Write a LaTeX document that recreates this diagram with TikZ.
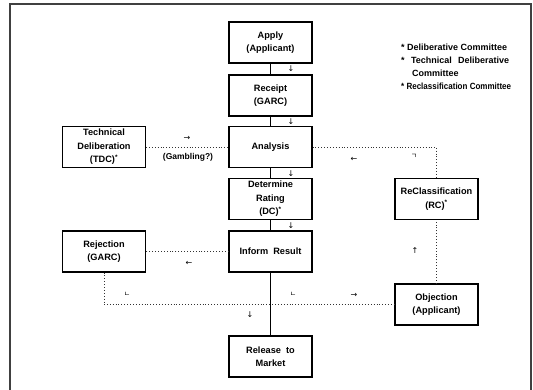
\documentclass[tikz,border=0pt]{standalone}
\usepackage{fontspec}
\setmainfont{Liberation Sans}
\newfontfamily\arrowfont{DejaVu Sans}
\newfontfamily\krfont{Noto Sans CJK KR}
\usepackage{tikz}
\usetikzlibrary{positioning}

\tikzset{
  dotline/.style={draw=black!80,line width=0.9pt,dash pattern=on 0.9pt off 2pt},
  glyph/.style={inner sep=0pt,font=\arrowfont\fontsize{8}{8}\selectfont},
  krglyph/.style={inner sep=0pt,font=\krfont\fontsize{7}{7}\selectfont}
}

\begin{document}
\begin{tikzpicture}[x=1pt,y=-1pt]
        \useasboundingbox (0,0) rectangle (533,389);
        % frame, open at the bottom
        \draw[line width=1.6pt,black!75] (10,395) -- (10,4) -- (531,4) -- (531,395);
        \begin{scope}[every node/.style={draw,line width=1.1pt,rectangle,minimum width=83pt,minimum height=41pt,inner sep=1pt,align=center,font=\bfseries\fontsize{9.2}{13.5}\selectfont}]
          \node (apply) at (270.5,42.5) {Apply\\(Applicant)};
          \node (receipt) at (270.5,95.5) {Receipt\\(GARC)};
          \node (analysis) at (270.5,147) {Analysis};
          \node (determine) at (270.5,199) {Determine\\Rating\\(DC)\textsuperscript{*}};
          \node (inform) at (270.5,251.5) {Inform\ \ Result};
          \node (release) at (270.5,356.5) {Release\ \ to\\Market};
          \node (tdc) at (104,147) {Technical\\Deliberation\\(TDC)\textsuperscript{*}};
          \node (rejection) at (104,251.5) {Rejection\\(GARC)};
          \node (reclass) at (436.5,199) {ReClassification\\(RC)\textsuperscript{*}};
          \node (objection) at (436.5,304.5) {Objection\\(Applicant)};
        \end{scope}
        \begin{scope}[every edge/.style={draw=black,line width=0.9pt}]
          \path (apply) edge (receipt);
          \path (receipt) edge (analysis);
          \path (analysis) edge (determine);
          \path (determine) edge (inform);
          \path (inform) edge (release);
        \end{scope}
        \begin{scope}[every edge/.style={dotline}]
          \path (tdc) edge (analysis);
          \path (inform) edge (rejection);
          \path (objection) edge (reclass);
        \end{scope}
        \draw[dotline] (analysis.east) -| (reclass.north);
        \draw[dotline] (rejection.south) |- (objection.west);
        % direction marks
        \node[glyph] (m1) at (291,69) {↓};
        \node[glyph] (m2) at (291,122) {↓};
        \node[glyph] (m3) at (291,174) {↓};
        \node[glyph] (m4) at (291,226) {↓};
        \node[glyph] (m5) at (250,315) {↓};
        \node[glyph] (m6) at (187,138) {→};
        \node[glyph] (m7) at (354,159) {←};
        \node[glyph] (m8) at (189,263) {←};
        \node[glyph] (m9) at (354,295) {→};
        \node[glyph] (m10) at (415,251) {↑};
        \node[krglyph] (k1) at (414,156) {ㄱ};
        \node[krglyph] (k2) at (127,294) {ㄴ};
        \node[krglyph] (k3) at (293,294) {ㄴ};
        \node[font=\bfseries\fontsize{8.5}{10}\selectfont,inner sep=0pt] (gamb) at (188,157) {(Gambling?)};
        % legend
        \node[anchor=north west,inner sep=0pt,align=left,font=\bfseries\fontsize{9}{13}\selectfont] (legend) at (401,44)
          {* Deliberative Committee\\
           \makebox[108pt][s]{* \ Technical \ Deliberative}\\
           \hspace*{11pt}Committee\\
           \scalebox{0.89}[1]{* Reclassification Committee}};
      \end{tikzpicture}
\end{document}
